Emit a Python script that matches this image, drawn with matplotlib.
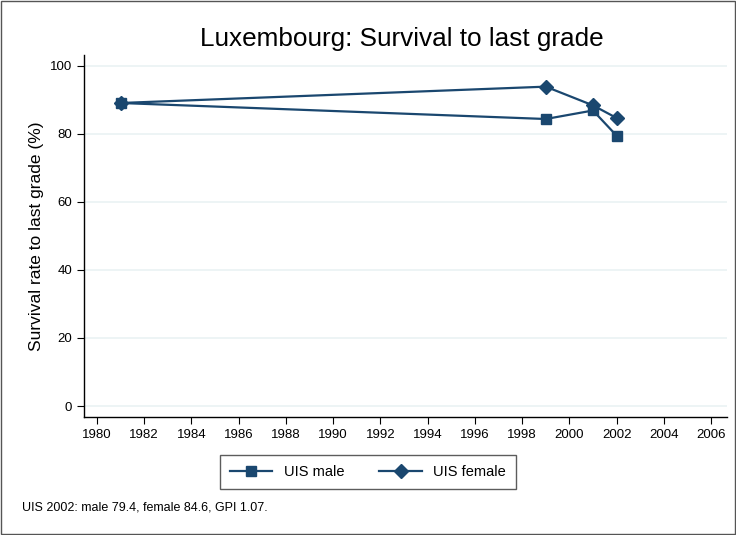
import matplotlib
matplotlib.use("Agg")
import matplotlib.pyplot as plt
from matplotlib.patches import Rectangle

plt.rcParams['font.family'] = ['Liberation Sans', 'DejaVu Sans']

years = [1981, 1999, 2001, 2002]
male = [89.0, 84.3, 86.8, 79.4]
female = [89.0, 93.8, 88.3, 84.6]
xticks = list(range(1980, 2007, 2))
yticks = [0, 20, 40, 60, 80, 100]
title = "Luxembourg: Survival to last grade"
ylabel = "Survival rate to last grade (%)"
note = "UIS 2002: male 79.4, female 84.6, GPI 1.07."

color = "#1a476f"
fig = plt.figure(figsize=(7.36, 5.35), dpi=100)
fig.patches.append(Rectangle((0.002, 0.002), 0.996, 0.996, transform=fig.transFigure,
                             fill=False, edgecolor="#555555", linewidth=1.0))
ax = fig.add_axes([0.114, 0.2206, 0.874, 0.676])
ax.plot(years, male, marker='s', color=color, markersize=7, linewidth=1.6, label="UIS male")
ax.plot(years, female, marker='D', color=color, markersize=7.5, linewidth=1.6, label="UIS female")
ax.set_xlim(1979.45, 2006.68)
ax.set_ylim(-3.2, 103)
ax.set_xticks(xticks)
ax.set_yticks(yticks)
ax.yaxis.grid(True, color="#eaf2f3", linewidth=1.2)
ax.set_axisbelow(True)
for s in ['top', 'right']:
    ax.spines[s].set_visible(False)
ax.spines['left'].set_linewidth(1.0)
ax.spines['bottom'].set_linewidth(1.0)
ax.tick_params(axis='both', labelsize=9.5, length=5, direction='out')
ax.set_ylabel(ylabel, fontsize=12.5)
fig.text(0.546, 0.927, title, ha='center', va='center', fontsize=18.8)
leg = fig.legend(loc='center', bbox_to_anchor=(0.5, 0.118), ncol=2, frameon=True,
                 fancybox=False, edgecolor="#333333", fontsize=10.5, handlelength=2.9,
                 handletextpad=0.8, columnspacing=2.4, borderpad=0.7)
leg.get_frame().set_linewidth(1.0)
fig.text(0.03, 0.052, note, fontsize=9, ha='left', va='center')
fig.savefig("out.png", dpi=100)
